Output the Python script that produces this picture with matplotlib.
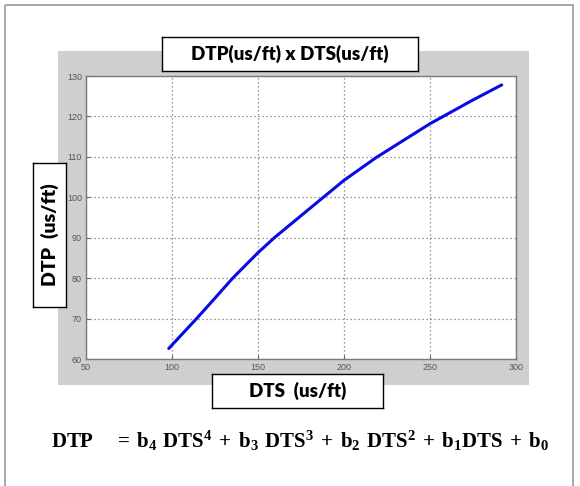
import matplotlib
matplotlib.use("Agg")
import matplotlib.pyplot as plt
from matplotlib.patches import Rectangle

W, H = 580, 486

# curve
dts = [98.1, 114.3, 123.6, 135.3, 150.0, 159.5, 186.0, 200.0, 218.6, 250.0, 273.8, 291.7]
dtp = [62.6, 70.0, 74.4, 80.0, 86.3, 90.0, 99.3, 104.2, 109.8, 118.2, 123.8, 127.8]

x_ticks = [50, 100, 150, 200, 250, 300]
y_ticks = [60, 70, 80, 90, 100, 110, 120, 130]

title_txt = "DTP(us/ft) x DTS(us/ft)"
xlabel_txt = "DTS  (us/ft)"
ylabel_txt = "DTP  (us/ft)"
eq_txt = (r"$\mathbf{DTP\ \ \ =\, b_4\ DTS^4 \,+\, b_3\ DTS^3 \,+\, b_2\ DTS^2"
          r" \,+\, b_1 DTS \,+\, b_0}$")

plt.rcParams['mathtext.fontset'] = 'custom'
plt.rcParams['mathtext.bf'] = 'Liberation Serif:bold'
plt.rcParams['mathtext.rm'] = 'Liberation Serif'


def box(x0, y0, x1, y1):
    # pixel box (top-left origin) -> figure fraction rect
    return [x0 / W, (H - y1) / H, (x1 - x0) / W, (y1 - y0) / H]


fig = plt.figure(figsize=(W / 100, H / 100), dpi=100)
fig.patch.set_facecolor("white")

# background layer: outer frame + grey panel
bg = fig.add_axes([0, 0, 1, 1], zorder=-5)
bg.set_xlim(0, W)
bg.set_ylim(H, 0)
bg.axis("off")
bg.add_patch(Rectangle((5, 5), 568, 487, facecolor="none",
                       edgecolor="#9a9a9a", lw=1.2))
bg.add_patch(Rectangle((58, 51), 471, 334, facecolor="#cfcfcf",
                       edgecolor="none"))
bg.text(300, 441, eq_txt, ha="center", va="center", fontsize=15)

ax = fig.add_axes(box(86, 76, 516, 359), zorder=1)
ax.plot(dts, dtp, color="#0a0ae6", lw=2.2, solid_capstyle="round",
        solid_joinstyle="round")
ax.set_xlim(50, 300)
ax.set_ylim(60, 130)
ax.set_xticks(x_ticks)
ax.set_yticks(y_ticks)
ax.grid(True, linestyle=(0, (1, 2.2)), color="#777777", lw=0.9)
ax.tick_params(direction="in", length=3, width=0.8, colors="#666666",
               labelsize=6.5, pad=3)
for lab in ax.get_xticklabels() + ax.get_yticklabels():
    lab.set_family("Liberation Sans")
    lab.set_color("#555555")
for s in ax.spines.values():
    s.set_color("#7a7a7a")
    s.set_linewidth(1.0)


# label boxes
def label_box(x0, y0, x1, y1, txt, rot=0, fs=13.5):
    a = fig.add_axes(box(x0, y0, x1, y1), zorder=3)
    a.set_xticks([])
    a.set_yticks([])
    for s in a.spines.values():
        s.set_color("black")
        s.set_linewidth(1.0)
    a.text(0.5, 0.5, txt, ha="center", va="center", rotation=rot,
           fontsize=fs, fontweight="heavy", family="Lato",
           transform=a.transAxes)


label_box(162, 37, 418, 71, title_txt)
label_box(212, 374, 383, 408, xlabel_txt)
label_box(33, 163, 66, 307, ylabel_txt, rot=90, fs=14)

fig.savefig("out.png", dpi=100)
